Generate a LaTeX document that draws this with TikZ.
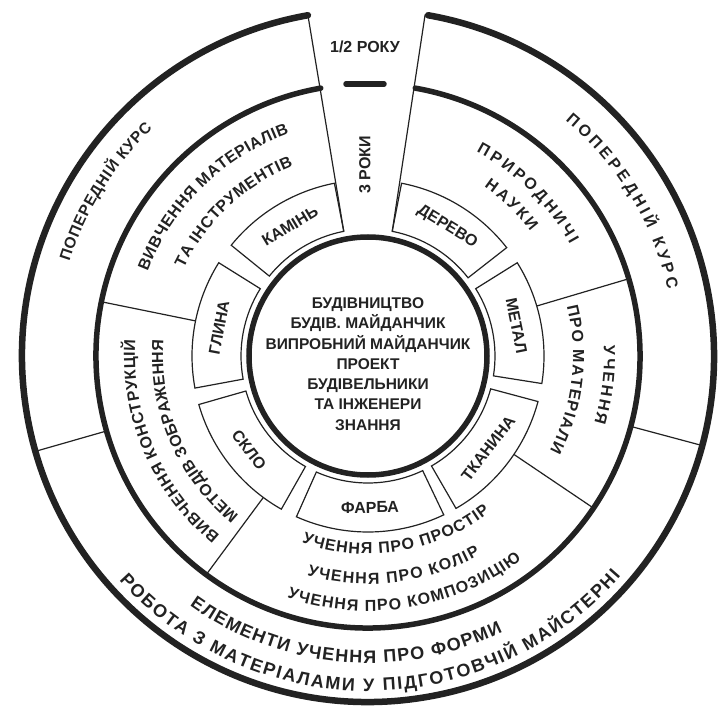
\documentclass[tikz,border=0pt]{standalone}
\usepackage{fontspec}
\setmainfont{Liberation Sans}
\usetikzlibrary{decorations.text}
\definecolor{ink}{RGB}{34,34,34}
\newcommand{\lbl}[1]{\fontsize{#1}{#1}\selectfont\bfseries}
\newcommand{\corefont}{\fontsize{15.5}{20.3}\selectfont\bfseries}
\tikzset{
    thick ring/.style={line width=#1, line cap=round, draw=ink},
    thin line/.style={line width=1.2pt, draw=ink},
    material/.style={line width=1.2pt, draw=ink, line join=miter},
    box label/.style={font=\lbl{16}, text=ink, inner sep=0pt},
    ring text/.style={decorate, decoration={text along path,
        text align=fit to path, text color=ink, text={#1}}},
}
% text on an arc: size, start angle, end angle, radius, text
\newcommand{\ringlabel}[5]{{\lbl{#1}\path[font=\lbl{#1}, ring text={#5}]
    (#2:#4) arc[start angle=#2, end angle=#3, radius=#4];}}

\begin{document}
\begin{tikzpicture}[x=1pt,y=1pt]
        \path[use as bounding box, fill=white] (-368,-356) rectangle (357,356);
        % rings
        \draw[thick ring=5.5pt] (0,0) circle[radius=119];
        \draw[thick ring=5.5pt] (100:272) arc[start angle=100, end angle=440, radius=272];
        \draw[thick ring=6.5pt] (100:346) arc[start angle=100, end angle=440, radius=346];
        \draw[thick ring=5.5pt] (-22,272) -- (16,272);
        % materials
        \draw[material] (101:127) arc[start angle=101, end angle=141, radius=127] -- (141:176) arc[start angle=141, end angle=101, radius=176] -- cycle;
        \draw[material] (148:127) arc[start angle=148, end angle=190.5, radius=127] -- (190.5:176) arc[start angle=190.5, end angle=148, radius=176] -- cycle;
        \draw[material] (196:127) arc[start angle=196, end angle=240.5, radius=127] -- (240.5:176) arc[start angle=240.5, end angle=196, radius=176] -- cycle;
        \draw[material] (246:127) arc[start angle=246, end angle=295.5, radius=127] -- (295.5:176) arc[start angle=295.5, end angle=246, radius=176] -- cycle;
        \draw[material] (300:127) arc[start angle=300, end angle=345, radius=127] -- (345:176) arc[start angle=345, end angle=300, radius=176] -- cycle;
        \draw[material] (-9:127) arc[start angle=-9, end angle=32, radius=127] -- (32:176) arc[start angle=32, end angle=-9, radius=176] -- cycle;
        \draw[material] (38:127) arc[start angle=38, end angle=79, radius=127] -- (79:176) arc[start angle=79, end angle=38, radius=176] -- cycle;
        \node[box label, rotate=31] (kamin) at (121:151.5) {КАМІНЬ};
        \node[box label, rotate=79.25] (hlyna) at (169.25:151.5) {ГЛИНА};
        \node[box label, rotate=-51.75] (sklo) at (218.25:151.5) {СКЛО};
        \node[box label, rotate=0.75] (farba) at (270.75:151.5) {ФАРБА};
        \node[box label, rotate=52.5] (tkanyna) at (-37.5:151.5) {ТКАНИНА};
        \node[box label, rotate=-78.5] (metal) at (11.5:151.5) {МЕТАЛ};
        \node[box label, rotate=-31.5] (derevo) at (58.5:151.5) {ДЕРЕВО};
        % dividers
        \draw[thin line] (101:127) -- (100:346);
        \draw[thin line] (79:127) -- (80.5:346);
        \draw[thin line] (168.5:176) -- (168.5:272);
        \draw[thin line] (233.5:176) -- (233.5:272);
        \draw[thin line] (-34:176) -- (-34:272);
        \draw[thin line] (16.5:176) -- (16.5:272);
        \draw[thin line] (196:272) -- (196:346);
        \draw[thin line] (-15:272) -- (-15:346);
        % texts
        \node[font=\corefont, text=ink, align=center] (core) at (0,-8) {БУДІВНИЦТВО\\БУДІВ. МАЙДАНЧИК\\ВИПРОБНИЙ МАЙДАНЧИК\\ПРОЕКТ\\БУДІВЕЛЬНИКИ\\ТА ІНЖЕНЕРИ\\ЗНАННЯ};
        \node[font=\lbl{16}, text=ink] (half) at (-3,309) {1/2 РОКУ};
        \node[font=\lbl{16}, text=ink, rotate=90] (three) at (-3,191) {3 РОКИ};
        \ringlabel{15.5}{162.5}{133.5}{313}{ПОПЕРЕДНІЙ КУРС}
        \ringlabel{16}{50}{12.5}{307}{ПОПЕРЕДНІЙ КУРС}
        \ringlabel{16}{159}{109.5}{236}{ВИВЧЕННЯ МАТЕРІАЛІВ}
        \ringlabel{16}{154.5}{111.5}{204}{ТА ІНСТРУМЕНТІВ}
        \ringlabel{16}{62}{29}{231}{ПРИРОДНИЧІ}
        \ringlabel{16}{55.5}{37.5}{205}{НАУКИ}
        \ringlabel{16}{2.5}{-16.5}{236}{УЧЕННЯ}
        \ringlabel{16}{14}{-27.5}{205}{ПРО МАТЕРІАЛИ}
        \ringlabel{16}{230.5}{176}{233}{ВИВЧЕННЯ КОНСТРУКЦІЙ}
        \ringlabel{16}{231}{175.5}{205}{МЕТОДІВ ЗОБРАЖЕННЯ}
        \ringlabel{16}{250.5}{308}{198}{УЧЕННЯ ПРО ПРОСТІР}
        \ringlabel{16}{254.5}{299.5}{228}{УЧЕННЯ ПРО КОЛІР}
        \ringlabel{16}{251.5}{307}{255}{УЧЕННЯ ПРО КОМПОЗИЦІЮ}
        \ringlabel{18}{234.5}{296}{307}{ЕЛЕМЕНТИ УЧЕННЯ ПРО ФОРМИ}
        \ringlabel{18}{222}{319}{335}{РОБОТА З МАТЕРІАЛАМИ У ПІДГОТОВЧІЙ МАЙСТЕРНІ}
\end{tikzpicture}
\end{document}
